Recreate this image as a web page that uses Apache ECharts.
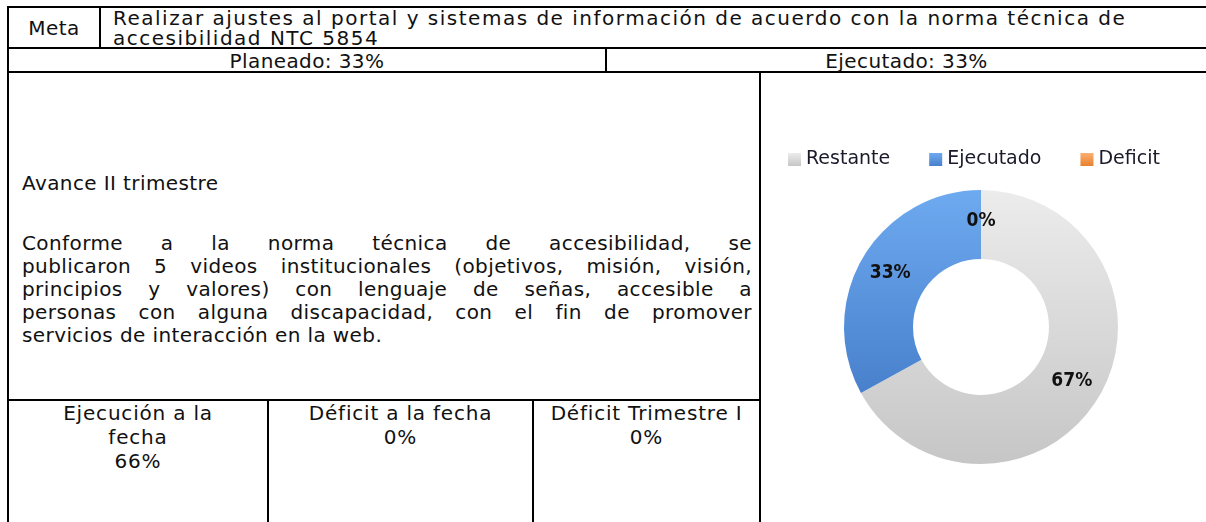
<!DOCTYPE html>
<html>
<head>
<meta charset="utf-8">
<script src="https://cdn.jsdelivr.net/npm/echarts@6/dist/echarts.min.js"></script>
<style>
html,body{margin:0;padding:0;background:#fff;width:1206px;height:522px;overflow:hidden;}
body{position:relative;font-family:"DejaVu Sans",sans-serif;font-size:20px;color:#111;letter-spacing:1.5px;}
.l{position:absolute;background:#000;}
.t{position:absolute;white-space:nowrap;line-height:20px;}
.c{text-align:center;}
.para{position:absolute;left:22px;width:730px;line-height:23px;}
.para div{text-align:justify;text-align-last:justify;white-space:nowrap;letter-spacing:0.4px;}
.para div.last{text-align-last:left;}
#chart{position:absolute;left:761px;top:73px;width:445px;height:449px;letter-spacing:0;}
</style>
</head>
<body>
<!-- table rules -->
<div class="l" style="left:7px;top:6px;width:1199px;height:2px"></div>
<div class="l" style="left:7px;top:6px;width:2px;height:516px"></div>
<div class="l" style="left:99px;top:6px;width:2px;height:42px"></div>
<div class="l" style="left:7px;top:47px;width:1199px;height:2px"></div>
<div class="l" style="left:605px;top:47px;width:2px;height:25px"></div>
<div class="l" style="left:7px;top:71px;width:1199px;height:2px"></div>
<div class="l" style="left:759px;top:71px;width:2px;height:451px"></div>
<div class="l" style="left:7px;top:399px;width:754px;height:2px"></div>
<div class="l" style="left:267px;top:399px;width:2px;height:123px"></div>
<div class="l" style="left:532px;top:399px;width:2px;height:123px"></div>

<div id="txt"></div>
<div id="chart"></div>

<script>
// ---- text content ----
const metaLabel = "Meta";
const metaLines = ["Realizar ajustes al portal y sistemas de información de acuerdo con la norma técnica de", "accesibilidad NTC 5854"];
const planeadoText = "Planeado: 33%";
const ejecutadoText = "Ejecutado: 33%";
const avanceTitle = "Avance II trimestre";
const avanceLines = [
  "Conforme a la norma técnica de accesibilidad, se",
  "publicaron 5 videos institucionales (objetivos, misión, visión,",
  "principios y valores) con lenguaje de señas, accesible a",
  "personas con alguna discapacidad, con el fin de promover",
  "servicios de interacción en la web."
];
const bottomCells = [
  ["Ejecución a la", "fecha", "66%"],
  ["Déficit a la fecha", "0%"],
  ["Déficit Trimestre I", "0%"]
];

// ---- chart data ----
const categories = ["Restante", "Ejecutado", "Deficit"];
const values = [67, 33, 0];
const colors = [
  ["#ececec", "#c6c6c6"],
  ["#6eaaf0", "#4880cc"],
  ["#fbb074", "#e8802c"]
];

// build table text
const txt = document.getElementById('txt');
function add(html, style, cls){
  const d = document.createElement('div');
  d.className = cls || 't';
  d.setAttribute('style', style);
  d.innerHTML = html;
  txt.appendChild(d);
  return d;
}
add(metaLabel, "left:9px;width:90px;top:18px;letter-spacing:0.5px", "t c");
add(metaLines[0], "left:113px;top:8px");
add(metaLines[1], "left:113px;top:28px");
add(planeadoText, "left:9px;width:596px;top:51px;letter-spacing:0.4px", "t c");
add(ejecutadoText, "left:607px;width:599px;top:51px;letter-spacing:0.4px", "t c");
add(avanceTitle, "left:22px;top:173px;letter-spacing:0.4px");
const p = add("", "top:232px", "para");
avanceLines.forEach((s,i)=>{
  const d=document.createElement('div');
  d.textContent=s;
  if(i===avanceLines.length-1) d.className='last';
  p.appendChild(d);
});
const cellX = [[9,258],[269,263],[534,225]];
bottomCells.forEach((lines,i)=>{
  add(lines.join("<br>"), "left:"+cellX[i][0]+"px;width:"+cellX[i][1]+"px;top:401px;line-height:24px;letter-spacing:0.8px", "t c");
});

// ---- chart ----
const chart = echarts.init(document.getElementById('chart'));
chart.setOption({
  animation:false,
  legend:{
    data:categories,
    left:22, top:72,
    itemWidth:13, itemHeight:13, itemGap:39,
    icon:'rect',
    textStyle:{fontFamily:'DejaVu Sans', fontSize:19, color:'#1a1a2a'}
  },
  series:[{
    type:'pie',
    center:[220,254],
    radius:[68,137],
    startAngle:90,
    clockwise:true,
    avoidLabelOverlap:false,
    label:{
      show:true, position:'inside',
      formatter:'{c}%',
      fontFamily:'DejaVu Sans Condensed, Liberation Sans, sans-serif', fontWeight:'bold',
      fontSize:19, color:'#111'
    },
    labelLine:{show:false},
    itemStyle:{borderWidth:0},
    data:categories.map((n,i)=>({
      name:n, value:values[i],
      itemStyle:{color:new echarts.graphic.LinearGradient(0,0,0,1,[{offset:0,color:colors[i][0]},{offset:1,color:colors[i][1]}])}
    }))
  }]
});
</script>
</body>
</html>
